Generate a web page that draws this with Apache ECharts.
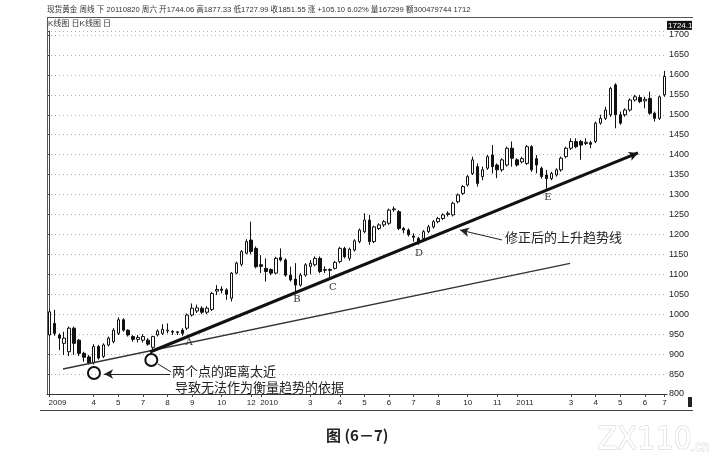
<!DOCTYPE html>
<html><head><meta charset="utf-8">
<script src="https://cdn.jsdelivr.net/npm/echarts@6/dist/echarts.min.js"></script>
<style>html,body{margin:0;padding:0;background:#fff}#c{width:718px;height:463px}</style>
</head><body><div id="c"></div>
<script>
// Weekly spot gold, 2009 -> mid 2011
const open  = [948,977,948,927,906,965,935,902,893,878,919,894,923,931,952,986,960,944,937,935,935,917,948,952,958,957,954,960,965,998,1008,1015,1005,1012,1058,1063,1061,1040,1103,1125,1153,1186,1165,1124,1115,1112,1103,1142,1136,1098,1088,1073,1098,1120,1124,1140,1110,1112,1115,1132,1165,1140,1161,1182,1207,1236,1182,1215,1224,1228,1262,1257,1215,1211,1196,1190,1190,1207,1219,1232,1240,1250,1249,1282,1303,1324,1353,1370,1345,1366,1399,1374,1362,1374,1416,1387,1382,1378,1420,1390,1366,1349,1340,1349,1362,1395,1416,1433,1433,1428,1430,1433,1479,1491,1500,1575,1500,1500,1512,1537,1543,1535,1541,1504,1491,1550];
const close = [1006,952,940,940,965,927,902,892,878,919,890,923,940,960,986,960,948,937,942,944,925,944,958,962,960,955,956,952,998,1015,1016,1005,1015,1052,1062,1060,1050,1103,1128,1157,1182,1157,1119,1120,1107,1103,1140,1136,1098,1086,1073,1098,1124,1128,1140,1107,1112,1110,1130,1165,1144,1163,1184,1211,1236,1182,1219,1224,1232,1261,1264,1215,1211,1199,1193,1182,1207,1219,1232,1240,1249,1253,1278,1299,1320,1345,1387,1328,1362,1395,1370,1362,1387,1416,1391,1374,1390,1420,1362,1374,1345,1340,1353,1362,1391,1416,1433,1420,1424,1431,1426,1479,1491,1512,1566,1500,1479,1512,1537,1545,1533,1539,1504,1491,1545,1596];
const low   = [944,946,910,898,895,898,895,881,874,874,886,890,919,927,948,956,944,931,929,929,921,908,944,948,952,948,948,946,960,994,1003,1000,1000,1008,1048,1052,1036,1032,1100,1120,1150,1150,1115,1103,1082,1098,1100,1132,1094,1082,1050,1069,1094,1100,1120,1103,1103,1090,1112,1128,1140,1134,1157,1178,1203,1174,1178,1211,1219,1224,1257,1211,1203,1195,1182,1174,1186,1203,1215,1228,1236,1245,1245,1278,1299,1320,1349,1320,1336,1362,1353,1341,1357,1370,1370,1370,1378,1374,1357,1353,1340,1314,1336,1345,1357,1391,1412,1416,1387,1424,1416,1429,1475,1487,1495,1466,1475,1495,1508,1533,1529,1516,1500,1483,1487,1545];
const high  = [1012,1011,952,956,969,969,938,906,898,925,923,927,944,965,992,990,962,948,948,950,940,946,962,975,977,960,958,965,1002,1027,1024,1020,1020,1056,1073,1070,1065,1106,1132,1161,1188,1232,1170,1148,1140,1115,1144,1165,1140,1119,1128,1103,1128,1136,1145,1145,1120,1115,1134,1169,1169,1167,1188,1215,1253,1249,1222,1228,1236,1265,1270,1261,1219,1215,1203,1194,1211,1224,1236,1244,1253,1258,1282,1303,1324,1349,1395,1378,1370,1399,1424,1378,1391,1420,1433,1391,1395,1424,1424,1399,1370,1362,1357,1366,1395,1420,1441,1441,1437,1441,1435,1483,1500,1520,1570,1579,1508,1516,1541,1550,1550,1545,1558,1508,1548,1610];

// x-axis month ticks: [week index, label]
const monthTicks = [[0,'2009'],[9,'4'],[14,'5'],[19,'7'],[24,'8'],[29,'9'],[35,'10'],[41,'12'],[43,'2010'],[53,'3'],[59,'4'],[64,'5'],[69,'6'],[74,'7'],[79,'8'],[85,'10'],[91,'11'],[95,'2011'],[106,'3'],[111,'4'],[116,'5'],[121,'6'],[125,'7']];
const yTicks = {min: 800, max: 1710, step: 50};
const lastPrice = 1724.11;

// annotation geometry in data units [week index, price]
const thinTrend  = [[2.75, 862.7], [105.8, 1127.2]];
const thickTrend = [[20.43, 905.3], [119.6, 1404.2]];
const pivotCircles = [[9.05, 852.6], [20.7, 885.2]];
const pointLetters = [['A', 28.4, 930], ['B', 50.3, 1038], ['C', 57.6, 1066], ['D', 75.1, 1153], ['E', 101.3, 1294]];
const noteArrow1 = [[24.5, 850.1], [11.1, 850.1]];
const noteLeader2 = [[22.06, 875.2], [24.7, 855.2]];
const noteArrow2 = [[91.97, 1186.1], [83.43, 1211.1]];
const notes = [['两个点的距离太近', 24.9, 856.4], ['导致无法作为衡量趋势的依据', 25.5, 817.5], ['修正后的上升趋势线', 92.6, 1193.6]];

const N = open.length;
const tickMap = {}; monthTicks.forEach(([i, l]) => { tickMap[i] = l; });
const categories = open.map((_, i) => 'w' + i);
const candles = open.map((o, i) => [o, close[i], low[i], high[i]]);
const isYear = l => l.length === 4;

const chart = echarts.init(document.getElementById('c'), null, {renderer: 'canvas'});
const F = 'Liberation Sans, Noto Sans CJK SC, sans-serif';
const CJK = 'Noto Sans CJK SC, sans-serif';

const seg = (pair, endSymbol, style) => [
  {coord: pair[0], symbol: 'none', lineStyle: style},
  {coord: pair[1], symbol: endSymbol, symbolSize: endSymbol === 'arrow' ? [7, 9] : 0, lineStyle: style}
];

const baseGraphic = [
  {type: 'text', left: 47, top: 6, style: {text: '现货黄金 周线 下 20110820 周六 开1744.06 高1877.33 低1727.99 收1851.55 涨 +105.10 6.02% 量167299 额300479744 1712', font: '7.6px ' + F, fill: '#333'}},
  {type: 'line', shape: {x1: 47, y1: 17.5, x2: 693, y2: 17.5}, style: {stroke: '#555', lineWidth: 1}},
  {type: 'text', left: 48, top: 20, style: {text: 'K线图 日K线图 日', font: '8px ' + F, fill: '#333'}},
  {type: 'line', shape: {x1: 47.5, y1: 17.5, x2: 47.5, y2: 394}, style: {stroke: '#555', lineWidth: 1}},
  {type: 'line', shape: {x1: 40, y1: 410.5, x2: 693, y2: 410.5}, style: {stroke: '#444', lineWidth: 1.2}},
  {type: 'rect', shape: {x: 688, y: 397, width: 4, height: 10}, style: {fill: '#222'}},
  {type: 'text', left: 326, top: 428, style: {text: '图 (6－7)', font: 'bold 15px ' + CJK, fill: '#222'}},
  {type: 'text', left: 597, top: 424, style: {text: 'ZX110', font: '32px Liberation Sans Narrow, DejaVu Sans Condensed, sans-serif', fill: '#fff', stroke: '#d0d0d0', lineWidth: 1}},
  {type: 'text', left: 690, top: 440, style: {text: '.cn', font: '14px Liberation Sans, sans-serif', fill: '#fff', stroke: '#d8d8d8', lineWidth: 1}}
];

chart.setOption({
  animation: false,
  backgroundColor: '#fff',
  grid: {left: 47, right: 51, top: 31, bottom: 69, show: false},
  xAxis: [{
    type: 'category', data: categories, boundaryGap: true,
    axisLine: {show: true, lineStyle: {color: '#333', width: 1}},
    axisTick: {show: true, alignWithLabel: true, length: 3, interval: i => tickMap.hasOwnProperty(i), lineStyle: {color: '#444'}},
    axisLabel: {
      interval: i => tickMap.hasOwnProperty(i), margin: 5, fontSize: 8, color: '#222', fontFamily: F,
      formatter: (v, i) => { const l = tickMap[i]; if (l === undefined) return ''; return isYear(l) ? '{y|' + l + '}' : l; },
      rich: {y: {fontSize: 8, fontFamily: F, color: '#222', padding: [0, 0, 0, 16]}}
    },
    splitLine: {show: false}
  }, {
    type: 'value', min: -0.5, max: N - 0.5, show: false
  }],
  yAxis: {
    type: 'value', position: 'right', min: yTicks.min, max: yTicks.max, interval: yTicks.step,
    axisLine: {show: true, lineStyle: {color: '#444', width: 1}},
    axisTick: {show: true, length: 2, inside: true, lineStyle: {color: '#444'}},
    axisLabel: {margin: 2, fontSize: 9, color: '#222', fontFamily: F,
      formatter: v => (v % yTicks.step === 0 ? String(v) : '')},
    splitLine: {show: true, lineStyle: {color: '#aaa', type: [1, 3], width: 1}}
  },
  series: [{
    type: 'candlestick', data: candles, barWidth: 3,
    itemStyle: {color: '#fff', color0: '#111', borderColor: '#111', borderColor0: '#111', borderWidth: 1}
  }, {
    type: 'line', xAxisIndex: 1, data: [], clip: false, silent: true,
    markLine: {
      silent: true, animation: false, symbol: 'none', label: {show: false},
      data: [
        seg(thinTrend, 'none', {color: '#333', width: 1.3, type: 'solid'}),
        seg(thickTrend, 'arrow', {color: '#111', width: 3, type: 'solid'}),
        seg(noteArrow1, 'arrow', {color: '#222', width: 1, type: 'solid'}),
        seg(noteLeader2, 'none', {color: '#222', width: 1, type: 'solid'}),
        seg(noteArrow2, 'arrow', {color: '#222', width: 1, type: 'solid'})
      ]
    },
    markPoint: {
      silent: true, animation: false,
      data: [].concat(
        pivotCircles.map(c => ({coord: c, symbol: 'circle', symbolSize: 12,
          itemStyle: {color: 'rgba(0,0,0,0)', borderColor: '#111', borderWidth: 2}, label: {show: false}})),
        pointLetters.map(([t, x, y]) => ({coord: [x, y], symbol: 'circle', symbolSize: 0,
          label: {show: true, position: 'inside', formatter: t, fontSize: 10, color: '#333', fontFamily: 'DejaVu Serif, serif'}})),
        notes.map(([t, x, y]) => ({coord: [x, y], symbol: 'circle', symbolSize: 0,
          label: {show: true, position: 'right', distance: 0, formatter: t, fontSize: 13, color: '#222', fontFamily: CJK}}))
      )
    }
  }],
  graphic: baseGraphic
});

// last-price tag on the right axis, positioned through the y scale
const py = chart.convertToPixel({yAxisIndex: 0}, lastPrice);
const px = chart.convertToPixel({xAxisIndex: 1}, N - 0.5);
chart.setOption({
  graphic: baseGraphic.concat([
    {type: 'rect', shape: {x: px, y: py - 4.5, width: 25, height: 9}, style: {fill: '#111'}},
    {type: 'text', x: px + 1, y: py - 4, style: {text: String(lastPrice), font: '8px ' + F, fill: '#fff'}}
  ])
});
</script>
</body></html>
